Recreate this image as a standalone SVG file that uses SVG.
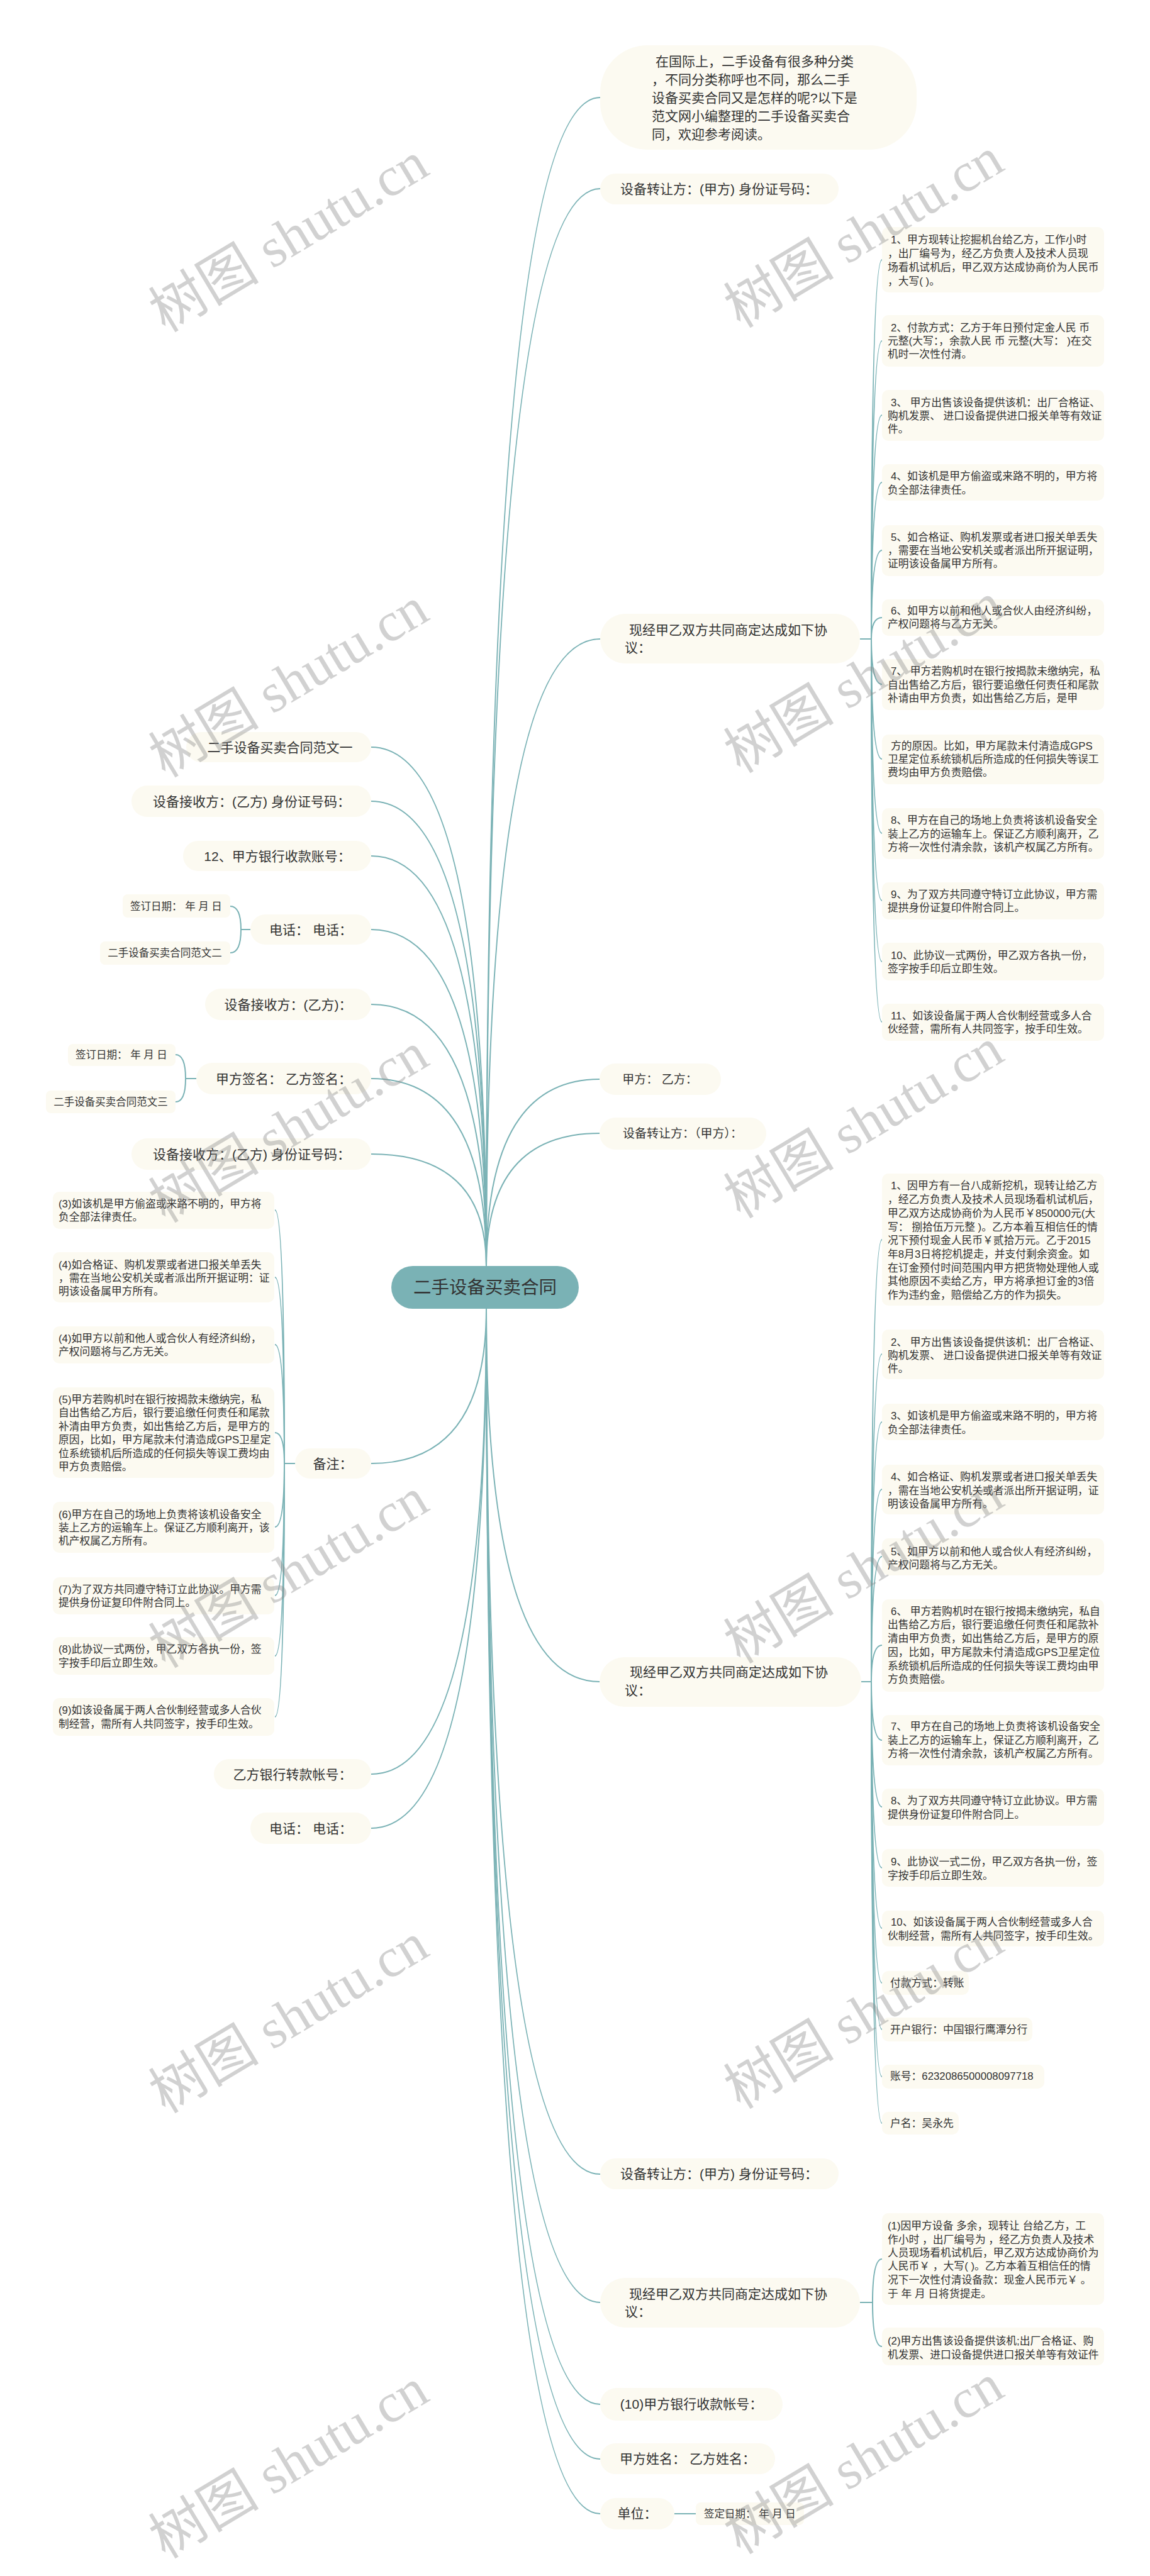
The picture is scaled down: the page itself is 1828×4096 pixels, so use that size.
<svg xmlns="http://www.w3.org/2000/svg" width="1828" height="4096" viewBox="0 0 1828 4096">
<style>
.t{font-family:'Liberation Sans','Noto Sans CJK SC',sans-serif;fill:#333}
.f21{font-size:21px}
.f17{font-size:16.8px}
.f16{font-size:16.5px}
.mid{text-anchor:middle}
.b{fill:#fcfaf1}
.c{fill:none;stroke:#7ab2b5;stroke-width:2}
.wm{font-family:'Liberation Serif','Noto Sans CJK SC',serif;font-size:88px;fill:#888;opacity:0.38;text-anchor:middle}
</style>
<rect width="1828" height="4096" fill="#ffffff"/>

<g id="connectors">
<path class="c" d="M773,2013 Q773,155 954,155"/>
<path class="c" d="M773,2013 Q773,300 954,300"/>
<path class="c" d="M773,2013 Q773,1016 954,1016"/>
<path class="c" d="M773,2013 Q773,1716 953,1716"/>
<path class="c" d="M773,2013 Q773,1802 953,1802"/>
<path class="c" d="M773,2013 Q773,1188 590,1188"/>
<path class="c" d="M773,2013 Q773,1274 590,1274"/>
<path class="c" d="M773,2013 Q773,1361 590,1361"/>
<path class="c" d="M773,2013 Q773,1478 590,1478"/>
<path class="c" d="M773,2013 Q773,1597 590,1597"/>
<path class="c" d="M773,2013 Q773,1715 590,1715"/>
<path class="c" d="M773,2013 Q773,1835 590,1835"/>
<path class="c" d="M773,2081 Q773,2674 953,2674"/>
<path class="c" d="M773,2081 Q773,3457 954,3457"/>
<path class="c" d="M773,2081 Q773,3661 954,3661"/>
<path class="c" d="M773,2081 Q773,3823 954,3823"/>
<path class="c" d="M773,2081 Q773,3910 954,3910"/>
<path class="c" d="M773,2081 Q773,3997 954,3997"/>
<path class="c" d="M773,2081 Q773,2327 590,2327"/>
<path class="c" d="M773,2081 Q773,2821 590,2821"/>
<path class="c" d="M773,2081 Q773,2907 590,2907"/>
<!-- 现经 #1 -->
<path class="c" d="M1367,1016 L1385,1016 Q1385,413 1402,413"/>
<path class="c" d="M1385,1016 Q1385,542 1402,542"/>
<path class="c" d="M1385,1016 Q1385,660 1402,660"/>
<path class="c" d="M1385,1016 Q1385,767 1402,767"/>
<path class="c" d="M1385,1016 Q1385,875 1402,875"/>
<path class="c" d="M1385,1016 Q1385,982 1402,982"/>
<path class="c" d="M1385,1016 Q1385,1088 1402,1088"/>
<path class="c" d="M1385,1016 Q1385,1207 1402,1207"/>
<path class="c" d="M1385,1016 Q1385,1325 1402,1325"/>
<path class="c" d="M1385,1016 Q1385,1432 1402,1432"/>
<path class="c" d="M1385,1016 Q1385,1529 1402,1529"/>
<path class="c" d="M1385,1016 Q1385,1625 1402,1625"/>
<!-- 现经 #2 -->
<path class="c" d="M1369,2674 L1385,2674 Q1385,1971 1402,1971"/>
<path class="c" d="M1385,2674 Q1385,2153 1402,2153"/>
<path class="c" d="M1385,2674 Q1385,2261 1402,2261"/>
<path class="c" d="M1385,2674 Q1385,2368 1402,2368"/>
<path class="c" d="M1385,2674 Q1385,2475 1402,2475"/>
<path class="c" d="M1385,2674 Q1385,2616 1402,2616"/>
<path class="c" d="M1385,2674 Q1385,2767 1402,2767"/>
<path class="c" d="M1385,2674 Q1385,2873 1402,2873"/>
<path class="c" d="M1385,2674 Q1385,2970 1402,2970"/>
<path class="c" d="M1385,2674 Q1385,3066 1402,3066"/>
<path class="c" d="M1385,2674 Q1385,3153 1402,3153"/>
<path class="c" d="M1385,2674 Q1385,3227 1402,3227"/>
<path class="c" d="M1385,2674 Q1385,3302 1402,3302"/>
<path class="c" d="M1385,2674 Q1385,3376 1402,3376"/>
<!-- 现经 #3 -->
<path class="c" d="M1367,3661 L1387,3661 Q1387,3592 1402,3592"/>
<path class="c" d="M1387,3661 Q1387,3731 1402,3731"/>
<!-- 单位 -->
<path class="c" d="M1072,3997 L1106,3997"/>
<!-- 电话 L4 -->
<path class="c" d="M398,1478 L383,1478 Q383,1441 366,1441"/>
<path class="c" d="M383,1478 Q383,1515 366,1515"/>
<!-- 甲方签名 L6 -->
<path class="c" d="M312,1715 L295,1715 Q295,1677 279,1677"/>
<path class="c" d="M295,1715 Q295,1752 279,1752"/>
<!-- 备注 -->
<path class="c" d="M469,2327 L452,2327 Q452,1924 437,1924"/>
<path class="c" d="M452,2327 Q452,2031 437,2031"/>
<path class="c" d="M452,2327 Q452,2138 437,2138"/>
<path class="c" d="M452,2327 Q452,2278 437,2278"/>
<path class="c" d="M452,2327 Q452,2428 437,2428"/>
<path class="c" d="M452,2327 Q452,2537 437,2537"/>
<path class="c" d="M452,2327 Q452,2633 437,2633"/>
<path class="c" d="M452,2327 Q452,2730 437,2730"/>
</g>

<g id="center">
<rect x="622" y="2013" width="298" height="68" rx="34" fill="#7ab2b5"/>
<text class="t mid" x="771" y="2057" font-size="28.5">二手设备买卖合同</text>
</g>

<g id="r-intro">
<rect class="b" x="954" y="72" width="503" height="166" rx="75"/>
<text class="t f21"><tspan x="1042" y="105">在国际上，二手设备有很多种分类</tspan><tspan x="1036" y="134">，不同分类称呼也不同，那么二手</tspan><tspan x="1036" y="163">设备买卖合同又是怎样的呢?以下是</tspan><tspan x="1036" y="192">范文网小编整理的二手设备买卖合</tspan><tspan x="1036" y="221">同，欢迎参考阅读。</tspan></text>
</g>
<g id="r-transfer1">
<rect class="b" x="954" y="276" width="379" height="49" rx="24.5"/>
<text class="t f21 mid" x="1143" y="307.5">设备转让方：(甲方) 身份证号码：</text>
</g>
<g id="r-agree1">
<rect class="b" x="954" y="976" width="413" height="79" rx="39.5"/>
<text class="t f21"><tspan x="1000" y="1009">现经甲乙双方共同商定达成如下协</tspan><tspan x="993" y="1037">议：</tspan></text>
</g>
<g id="r1-items" class="t f17">
<rect class="b" x="1402" y="361" width="353" height="104" rx="10"/>
<text><tspan x="1416" y="387">1、甲方现转让挖掘机台给乙方，工作小时</tspan><tspan x="1411" y="409">，出厂编号为，经乙方负责人及技术人员现</tspan><tspan x="1411" y="431">场看机试机后，甲乙双方达成协商价为人民币</tspan><tspan x="1411" y="453">，大写( )。</tspan></text>
<rect class="b" x="1402" y="501" width="353" height="82" rx="10"/>
<text><tspan x="1416" y="527">2、付款方式：乙方于年日预付定金人民 币</tspan><tspan x="1411" y="548">元整(大写：，余款人民 币 元整(大写： )在交</tspan><tspan x="1411" y="569">机时一次性付清。</tspan></text>
<rect class="b" x="1402" y="620" width="353" height="81" rx="10"/>
<text><tspan x="1416" y="646">3、 甲方出售该设备提供该机：出厂合格证、</tspan><tspan x="1411" y="667">购机发票、 进口设备提供进口报关单等有效证</tspan><tspan x="1411" y="688">件。</tspan></text>
<rect class="b" x="1402" y="738" width="353" height="58" rx="10"/>
<text><tspan x="1416" y="763">4、如该机是甲方偷盗或来路不明的，甲方将</tspan><tspan x="1411" y="785">负全部法律责任。</tspan></text>
<rect class="b" x="1402" y="835" width="353" height="81" rx="10"/>
<text><tspan x="1416" y="860">5、如合格证、购机发票或者进口报关单丢失</tspan><tspan x="1411" y="881">，需要在当地公安机关或者派出所开据证明，</tspan><tspan x="1411" y="902">证明该设备属甲方所有。</tspan></text>
<rect class="b" x="1402" y="953" width="353" height="58" rx="10"/>
<text><tspan x="1416" y="977">6、如甲方以前和他人或合伙人由经济纠纷，</tspan><tspan x="1411" y="998">产权问题将与乙方无关。</tspan></text>
<rect class="b" x="1402" y="1048" width="353" height="81" rx="10"/>
<text><tspan x="1416" y="1073">7、 甲方若购机时在银行按揭款未缴纳完，私</tspan><tspan x="1411" y="1095">自出售给乙方后，银行要追缴任何责任和尾款</tspan><tspan x="1411" y="1116">补请由甲方负责，如出售给乙方后，是甲</tspan></text>
<rect class="b" x="1402" y="1168" width="353" height="79" rx="10"/>
<text><tspan x="1416" y="1192">方的原因。比如，甲方尾款未付清造成GPS</tspan><tspan x="1411" y="1213">卫星定位系统锁机后所造成的任何损失等误工</tspan><tspan x="1411" y="1234">费均由甲方负责赔偿。</tspan></text>
<rect class="b" x="1402" y="1285" width="353" height="81" rx="10"/>
<text><tspan x="1416" y="1310">8、甲方在自己的场地上负责将该机设备安全</tspan><tspan x="1411" y="1332">装上乙方的运输车上。保证乙方顺利离开，乙</tspan><tspan x="1411" y="1353">方将一次性付清余款，该机产权属乙方所有。</tspan></text>
<rect class="b" x="1402" y="1403" width="353" height="59" rx="10"/>
<text><tspan x="1416" y="1428">9、为了双方共同遵守特订立此协议，甲方需</tspan><tspan x="1411" y="1449">提拱身份证复印件附合同上。</tspan></text>
<rect class="b" x="1402" y="1499" width="353" height="60" rx="10"/>
<text><tspan x="1416" y="1525">10、此协议一式两份，甲乙双方各执一份，</tspan><tspan x="1411" y="1546">签字按手印后立即生效。</tspan></text>
<rect class="b" x="1402" y="1596" width="353" height="59" rx="10"/>
<text><tspan x="1416" y="1621">11、如该设备属于两人合伙制经营或多人合</tspan><tspan x="1411" y="1642">伙经营，需所有人共同签字，按手印生效。</tspan></text>
</g>

<g id="r-parties">
<rect class="b" x="953" y="1691" width="193" height="50" rx="25"/>
<text class="t mid" x="1049" y="1723" font-size="19">甲方： 乙方：</text>
</g>
<g id="r-transfer2">
<rect class="b" x="953" y="1777" width="265" height="51" rx="25.5"/>
<text class="t mid" x="1085" y="1809" font-size="19">设备转让方：（甲方）：</text>
</g>

<g id="r-agree2">
<rect class="b" x="953" y="2635" width="416" height="79" rx="39.5"/>
<text class="t f21"><tspan x="1001" y="2666">现经甲乙双方共同商定达成如下协</tspan><tspan x="993" y="2695">议：</tspan></text>
</g>
<g id="r2-items" class="t f17">
<rect class="b" x="1402" y="1866" width="353" height="210" rx="10"/>
<text><tspan x="1416" y="1891">1、因甲方有一台八成新挖机，现转让给乙方</tspan><tspan x="1411" y="1913">，经乙方负责人及技术人员现场看机试机后，</tspan><tspan x="1411" y="1935">甲乙双方达成协商价为人民币￥850000元(大</tspan><tspan x="1411" y="1957">写： 捌拾伍万元整 )。乙方本着互相信任的情</tspan><tspan x="1411" y="1978">况下预付现金人民币￥贰拾万元。乙于2015</tspan><tspan x="1411" y="2000">年8月3日将挖机提走，并支付剩余资金。如</tspan><tspan x="1411" y="2022">在订金预付时间范围内甲方把货物处理他人或</tspan><tspan x="1411" y="2043">其他原因不卖给乙方，甲方将承担订金的3倍</tspan><tspan x="1411" y="2065">作为违约金，赔偿给乙方的作为损失。</tspan></text>
<rect class="b" x="1402" y="2114" width="353" height="79" rx="10"/>
<text><tspan x="1416" y="2140">2、 甲方出售该设备提供该机：出厂合格证、</tspan><tspan x="1411" y="2161">购机发票、 进口设备提供进口报关单等有效证</tspan><tspan x="1411" y="2182">件。</tspan></text>
<rect class="b" x="1402" y="2232" width="353" height="58" rx="10"/>
<text><tspan x="1416" y="2257">3、如该机是甲方偷盗或来路不明的，甲方将</tspan><tspan x="1411" y="2279">负全部法律责任。</tspan></text>
<rect class="b" x="1402" y="2329" width="353" height="79" rx="10"/>
<text><tspan x="1416" y="2354">4、如合格证、购机发票或者进口报关单丢失</tspan><tspan x="1411" y="2376">，需在当地公安机关或者派出所开据证明，证</tspan><tspan x="1411" y="2397">明该设备属甲方所有。</tspan></text>
<rect class="b" x="1402" y="2446" width="353" height="59" rx="10"/>
<text><tspan x="1416" y="2473">5、如甲方以前和他人或合伙人有经济纠纷，</tspan><tspan x="1411" y="2494">产权问题将与乙方无关。</tspan></text>
<rect class="b" x="1402" y="2543" width="353" height="147" rx="10"/>
<text><tspan x="1416" y="2568">6、 甲方若购机时在银行按揭未缴纳完，私自</tspan><tspan x="1411" y="2589">出售给乙方后，银行要追缴任何责任和尾款补</tspan><tspan x="1411" y="2611">清由甲方负责，如出售给乙方后，是甲方的原</tspan><tspan x="1411" y="2633">因，比如，甲方尾款未付清造成GPS卫星定位</tspan><tspan x="1411" y="2655">系统锁机后所造成的任何损失等误工费均由甲</tspan><tspan x="1411" y="2676">方负责赔偿。</tspan></text>
<rect class="b" x="1402" y="2727" width="353" height="80" rx="10"/>
<text><tspan x="1416" y="2751">7、 甲方在自己的场地上负责将该机设备安全</tspan><tspan x="1411" y="2773">装上乙方的运输车上，保证乙方顺利离开，乙</tspan><tspan x="1411" y="2794">方将一次性付清余款，该机产权属乙方所有。</tspan></text>
<rect class="b" x="1402" y="2844" width="353" height="59" rx="10"/>
<text><tspan x="1416" y="2869">8、为了双方共同遵守特订立此协议。甲方需</tspan><tspan x="1411" y="2891">提供身份证复印件附合同上。</tspan></text>
<rect class="b" x="1402" y="2940" width="353" height="60" rx="10"/>
<text><tspan x="1416" y="2966">9、此协议一式二份，甲乙双方各执一份，签</tspan><tspan x="1411" y="2988">字按手印后立即生效。</tspan></text>
<rect class="b" x="1402" y="3038" width="353" height="57" rx="10"/>
<text><tspan x="1416" y="3062">10、如该设备属于两人合伙制经营或多人合</tspan><tspan x="1411" y="3084">伙制经营，需所有人共同签字，按手印生效。</tspan></text>
<rect class="b" x="1402" y="3134" width="138" height="38" rx="10"/>
<text x="1415" y="3159">付款方式：转账</text>
<rect class="b" x="1402" y="3208" width="239" height="38" rx="10"/>
<text x="1415" y="3233">开户银行：中国银行鹰潭分行</text>
<rect class="b" x="1402" y="3283" width="258" height="38" rx="10"/>
<text x="1415" y="3307">账号：6232086500008097718</text>
<rect class="b" x="1402" y="3358" width="122" height="36" rx="10"/>
<text x="1415" y="3382">户名：吴永先</text>
</g>

<g id="r-transfer3">
<rect class="b" x="954" y="3432" width="379" height="49" rx="24.5"/>
<text class="t f21 mid" x="1143" y="3464">设备转让方：(甲方) 身份证号码：</text>
</g>
<g id="r-agree3">
<rect class="b" x="954" y="3622" width="413" height="79" rx="39.5"/>
<text class="t f21"><tspan x="1000" y="3655">现经甲乙双方共同商定达成如下协</tspan><tspan x="993" y="3683">议：</tspan></text>
</g>
<g id="r3-items" class="t f17">
<rect class="b" x="1402" y="3519" width="353" height="146" rx="10"/>
<text><tspan x="1411" y="3545">(1)因甲方设备 多余，现转让 台给乙方，工</tspan><tspan x="1411" y="3567">作小时 ，出厂编号为 ，经乙方负责人及技术</tspan><tspan x="1411" y="3588">人员现场看机试机后，甲乙双方达成协商价为</tspan><tspan x="1411" y="3609">人民币￥ ，大写( )。乙方本着互相信任的情</tspan><tspan x="1411" y="3631">况下一次性付清设备款：现金人民币元￥ 。</tspan><tspan x="1411" y="3653">于 年 月 日将货提走。</tspan></text>
<rect class="b" x="1402" y="3701" width="353" height="60" rx="10"/>
<text><tspan x="1411" y="3728">(2)甲方出售该设备提供该机;出厂合格证、购</tspan><tspan x="1411" y="3750">机发票、进口设备提供进口报关单等有效证件</tspan></text>
</g>
<g id="r-bank">
<rect class="b" x="954" y="3797" width="290" height="52" rx="26"/>
<text class="t f21 mid" x="1099" y="3830">(10)甲方银行收款帐号：</text>
</g>
<g id="r-names">
<rect class="b" x="954" y="3885" width="278" height="49" rx="24.5"/>
<text class="t f21 mid" x="1093" y="3917">甲方姓名： 乙方姓名：</text>
</g>
<g id="r-unit">
<rect class="b" x="954" y="3972" width="118" height="50" rx="25"/>
<text class="t f21 mid" x="1013" y="4004">单位：</text>
</g>
<g id="r-unit-date">
<rect class="b" x="1106" y="3979" width="172" height="36" rx="8"/>
<text class="t f16 mid" x="1192" y="4003">签定日期： 年 月 日</text>
</g>

<g id="l-sample1">
<rect class="b" x="296" y="1164" width="294" height="48" rx="24"/>
<text class="t f21 mid" x="445" y="1195.5">二手设备买卖合同范文一</text>
</g>
<g id="l-receiver1">
<rect class="b" x="209" y="1249" width="381" height="50" rx="25"/>
<text class="t f21 mid" x="400" y="1281.5">设备接收方：(乙方) 身份证号码：</text>
</g>
<g id="l-account">
<rect class="b" x="291" y="1337" width="299" height="48" rx="24"/>
<text class="t f21 mid" x="441" y="1368.5">12、甲方银行收款账号：</text>
</g>
<g id="l-phone1">
<rect class="b" x="398" y="1454" width="192" height="48" rx="24"/>
<text class="t f21 mid" x="494" y="1485.5">电话： 电话：</text>
</g>
<g id="l-phone1-c1">
<rect class="b" x="195" y="1422" width="171" height="37" rx="8"/>
<text class="t f16 mid" x="280" y="1447">签订日期： 年 月 日</text>
</g>
<g id="l-phone1-c2">
<rect class="b" x="159" y="1497" width="207" height="37" rx="8"/>
<text class="t f16 mid" x="262" y="1521">二手设备买卖合同范文二</text>
</g>
<g id="l-receiver2">
<rect class="b" x="326" y="1572" width="264" height="50" rx="25"/>
<text class="t f21 mid" x="458" y="1604.5">设备接收方：(乙方)：</text>
</g>
<g id="l-sign">
<rect class="b" x="312" y="1690" width="278" height="50" rx="25"/>
<text class="t f21 mid" x="451" y="1722.5">甲方签名： 乙方签名：</text>
</g>
<g id="l-sign-c1">
<rect class="b" x="108" y="1660" width="171" height="35" rx="8"/>
<text class="t f16 mid" x="193" y="1683">签订日期： 年 月 日</text>
</g>
<g id="l-sign-c2">
<rect class="b" x="73" y="1734" width="206" height="36" rx="8"/>
<text class="t f16 mid" x="176" y="1758">二手设备买卖合同范文三</text>
</g>
<g id="l-receiver3">
<rect class="b" x="209" y="1810" width="381" height="50" rx="25"/>
<text class="t f21 mid" x="400" y="1842.5">设备接收方：(乙方) 身份证号码：</text>
</g>

<g id="l-notes">
<rect class="b" x="469" y="2303" width="121" height="48" rx="24"/>
<text class="t f21 mid" x="529" y="2334.5">备注：</text>
</g>
<g id="l-notes-items" class="t f17">
<rect class="b" x="84" y="1895" width="352" height="59" rx="10"/>
<text><tspan x="93" y="1920">(3)如该机是甲方偷盗或来路不明的，甲方将</tspan><tspan x="93" y="1941">负全部法律责任。</tspan></text>
<rect class="b" x="84" y="1991" width="352" height="80" rx="10"/>
<text><tspan x="93" y="2017">(4)如合格证、购机发票或者进口报关单丢失</tspan><tspan x="93" y="2038">，需在当地公安机关或者派出所开据证明：证</tspan><tspan x="93" y="2059">明该设备属甲方所有。</tspan></text>
<rect class="b" x="84" y="2109" width="352" height="59" rx="10"/>
<text><tspan x="93" y="2134">(4)如甲方以前和他人或合伙人有经济纠纷，</tspan><tspan x="93" y="2155">产权问题将与乙方无关。</tspan></text>
<rect class="b" x="84" y="2206" width="352" height="144" rx="10"/>
<text><tspan x="93" y="2231">(5)甲方若购机时在银行按揭款未缴纳完，私</tspan><tspan x="93" y="2252">自出售给乙方后，银行要追缴任何责任和尾款</tspan><tspan x="93" y="2274">补清由甲方负责，如出售给乙方后，是甲方的</tspan><tspan x="93" y="2295">原因，比如，甲方尾款未付清造成GPS卫星定</tspan><tspan x="93" y="2317">位系统锁机后所造成的任何损失等误工费均由</tspan><tspan x="93" y="2338">甲方负责赔偿。</tspan></text>
<rect class="b" x="84" y="2388" width="352" height="81" rx="10"/>
<text><tspan x="93" y="2414">(6)甲方在自己的场地上负责将该机设备安全</tspan><tspan x="93" y="2435">装上乙方的运输车上。保证乙方顺利离开，该</tspan><tspan x="93" y="2456">机产权属乙方所有。</tspan></text>
<rect class="b" x="84" y="2508" width="352" height="59" rx="10"/>
<text><tspan x="93" y="2533">(7)为了双方共同遵守特订立此协议。甲方需</tspan><tspan x="93" y="2554">提供身份证复印件附合同上。</tspan></text>
<rect class="b" x="84" y="2603" width="352" height="60" rx="10"/>
<text><tspan x="93" y="2628">(8)此协议一式两份，甲乙双方各执一份，签</tspan><tspan x="93" y="2650">字按手印后立即生效。</tspan></text>
<rect class="b" x="84" y="2700" width="352" height="60" rx="10"/>
<text><tspan x="93" y="2725">(9)如该设备属于两人合伙制经营或多人合伙</tspan><tspan x="93" y="2747">制经营，需所有人共同签字，按手印生效。</tspan></text>
</g>
<g id="l-bank2">
<rect class="b" x="340" y="2797" width="250" height="48" rx="24"/>
<text class="t f21 mid" x="465" y="2828.5">乙方银行转款帐号：</text>
</g>
<g id="l-phone2">
<rect class="b" x="398" y="2882" width="192" height="50" rx="25"/>
<text class="t f21 mid" x="494" y="2914.5">电话： 电话：</text>
</g>

<g id="watermarks">
<text class="wm" x="459" y="407" transform="rotate(-31 459 377)">树图 shutu.cn</text>
<text class="wm" x="1373" y="400" transform="rotate(-31 1373 370)">树图 shutu.cn</text>
<text class="wm" x="459" y="1115" transform="rotate(-31 459 1085)">树图 shutu.cn</text>
<text class="wm" x="1373" y="1108" transform="rotate(-31 1373 1078)">树图 shutu.cn</text>
<text class="wm" x="459" y="1823" transform="rotate(-31 459 1793)">树图 shutu.cn</text>
<text class="wm" x="1373" y="1816" transform="rotate(-31 1373 1786)">树图 shutu.cn</text>
<text class="wm" x="459" y="2531" transform="rotate(-31 459 2501)">树图 shutu.cn</text>
<text class="wm" x="1373" y="2524" transform="rotate(-31 1373 2494)">树图 shutu.cn</text>
<text class="wm" x="459" y="3239" transform="rotate(-31 459 3209)">树图 shutu.cn</text>
<text class="wm" x="1373" y="3232" transform="rotate(-31 1373 3202)">树图 shutu.cn</text>
<text class="wm" x="459" y="3947" transform="rotate(-31 459 3917)">树图 shutu.cn</text>
<text class="wm" x="1373" y="3940" transform="rotate(-31 1373 3910)">树图 shutu.cn</text>
</g>
</svg>
